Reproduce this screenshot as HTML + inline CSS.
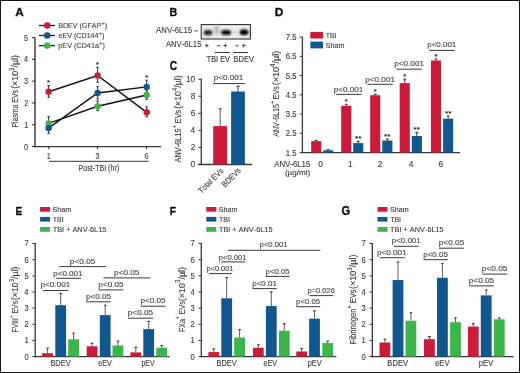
<!DOCTYPE html>
<html><head><meta charset="utf-8"><style>
html,body{margin:0;padding:0;background:#fff;}
body{width:520px;height:373px;overflow:hidden;font-family:"Liberation Sans",sans-serif;}
svg{display:block;will-change:transform;}
text{font-kerning:none;}
text:not([font-weight]){stroke:currentColor;stroke-width:0.12px;}
text[font-weight]{stroke:currentColor;stroke-width:0.35px;}
</style></head><body>
<svg width="520" height="373" viewBox="0 0 520 373" font-family="Liberation Sans">
<rect x="0.00" y="0.00" width="520.00" height="373.00" fill="#fff" />
<text x="15.21" y="15.50" font-size="11.05" fill="#111" color="#111" font-weight="bold" textLength="8.50" lengthAdjust="spacingAndGlyphs" >A</text>
<line x1="39.00" y1="25.50" x2="55.00" y2="25.50" stroke="#222" stroke-width="1.3" />
<circle cx="47.20" cy="25.50" r="3.3" fill="#ca1c39"/>
<text x="58.22" y="28.10" font-size="7.1" fill="#444" color="#444" >BDEV (GFAP<tspan font-size="6.00" dy="-3.00">+</tspan><tspan dy="3.00">)</tspan></text>
<line x1="39.00" y1="35.50" x2="55.00" y2="35.50" stroke="#222" stroke-width="1.3" />
<circle cx="47.20" cy="35.50" r="3.3" fill="#12578d"/>
<text x="58.50" y="37.90" font-size="7.1" fill="#444" color="#444" textLength="45.95" lengthAdjust="spacingAndGlyphs" >eEV (CD144<tspan font-size="6.00" dy="-3.00">+</tspan><tspan dy="3.00">)</tspan></text>
<line x1="39.00" y1="45.60" x2="55.00" y2="45.60" stroke="#222" stroke-width="1.3" />
<circle cx="47.20" cy="45.60" r="3.3" fill="#3db54a"/>
<text x="58.33" y="47.80" font-size="7.1" fill="#444" color="#444" textLength="46.62" lengthAdjust="spacingAndGlyphs" >pEV (CD41a<tspan font-size="6.00" dy="-3.00">+</tspan><tspan dy="3.00">)</tspan></text>
<line x1="35.00" y1="37.60" x2="35.00" y2="147.20" stroke="#383838" stroke-width="1.4" />
<line x1="34.30" y1="146.60" x2="161.00" y2="146.60" stroke="#383838" stroke-width="1.4" />
<line x1="32.00" y1="146.50" x2="35.00" y2="146.50" stroke="#383838" stroke-width="1.1" />
<text x="24.08" y="149.60" font-size="9.0" fill="#3c3c3c" color="#3c3c3c" textLength="4.10" lengthAdjust="spacingAndGlyphs" >0</text>
<line x1="32.00" y1="124.72" x2="35.00" y2="124.72" stroke="#383838" stroke-width="1.1" />
<text x="24.16" y="127.82" font-size="9.0" fill="#3c3c3c" color="#3c3c3c" textLength="4.10" lengthAdjust="spacingAndGlyphs" >1</text>
<line x1="32.00" y1="102.94" x2="35.00" y2="102.94" stroke="#383838" stroke-width="1.1" />
<text x="24.17" y="106.04" font-size="9.0" fill="#3c3c3c" color="#3c3c3c" textLength="4.10" lengthAdjust="spacingAndGlyphs" >2</text>
<line x1="32.00" y1="81.16" x2="35.00" y2="81.16" stroke="#383838" stroke-width="1.1" />
<text x="24.12" y="84.26" font-size="9.0" fill="#3c3c3c" color="#3c3c3c" textLength="4.10" lengthAdjust="spacingAndGlyphs" >3</text>
<line x1="32.00" y1="59.38" x2="35.00" y2="59.38" stroke="#383838" stroke-width="1.1" />
<text x="24.01" y="62.48" font-size="9.0" fill="#3c3c3c" color="#3c3c3c" textLength="4.10" lengthAdjust="spacingAndGlyphs" >4</text>
<line x1="32.00" y1="37.60" x2="35.00" y2="37.60" stroke="#383838" stroke-width="1.1" />
<text x="24.11" y="40.70" font-size="9.0" fill="#3c3c3c" color="#3c3c3c" textLength="4.10" lengthAdjust="spacingAndGlyphs" >5</text>
<line x1="48.80" y1="146.60" x2="48.80" y2="149.20" stroke="#383838" stroke-width="1.1" />
<text x="46.69" y="158.70" font-size="8.8" fill="#3c3c3c" color="#3c3c3c" textLength="4.01" lengthAdjust="spacingAndGlyphs" >1</text>
<line x1="97.50" y1="146.60" x2="97.50" y2="149.20" stroke="#383838" stroke-width="1.1" />
<text x="95.51" y="158.70" font-size="8.8" fill="#3c3c3c" color="#3c3c3c" textLength="4.01" lengthAdjust="spacingAndGlyphs" >3</text>
<line x1="146.50" y1="146.60" x2="146.50" y2="149.20" stroke="#383838" stroke-width="1.1" />
<text x="144.47" y="158.70" font-size="8.8" fill="#3c3c3c" color="#3c3c3c" textLength="4.01" lengthAdjust="spacingAndGlyphs" >6</text>
<line x1="49.00" y1="161.30" x2="148.50" y2="161.30" stroke="#333" stroke-width="1" />
<text x="78.62" y="171.40" font-size="9.4" fill="#3c3c3c" color="#3c3c3c" textLength="40.52" lengthAdjust="spacingAndGlyphs" >Post-TBI (hr)</text>
<text x="-127.57" y="0" font-size="9.8" fill="#3c3c3c" color="#3c3c3c" textLength="37.51" lengthAdjust="spacingAndGlyphs" transform="translate(18.00,0) rotate(-90)" >Plasma EVs</text>
<text x="-88.85" y="0" font-size="9.8" fill="#3c3c3c" color="#3c3c3c" textLength="33.80" lengthAdjust="spacingAndGlyphs" transform="translate(18.00,0) rotate(-90)" >(×10<tspan font-size="6.66" dy="-4.12">3</tspan><tspan dy="4.12">/µl)</tspan></text>
<line x1="48.60" y1="121.70" x2="48.60" y2="133.30" stroke="#333" stroke-width="1" />
<line x1="47.30" y1="121.70" x2="49.90" y2="121.70" stroke="#333" stroke-width="1" />
<line x1="47.30" y1="133.30" x2="49.90" y2="133.30" stroke="#333" stroke-width="1" />
<line x1="97.60" y1="86.60" x2="97.60" y2="98.90" stroke="#333" stroke-width="1" />
<line x1="96.30" y1="86.60" x2="98.90" y2="86.60" stroke="#333" stroke-width="1" />
<line x1="96.30" y1="98.90" x2="98.90" y2="98.90" stroke="#333" stroke-width="1" />
<line x1="146.70" y1="80.20" x2="146.70" y2="93.00" stroke="#333" stroke-width="1" />
<line x1="145.40" y1="80.20" x2="148.00" y2="80.20" stroke="#333" stroke-width="1" />
<line x1="145.40" y1="93.00" x2="148.00" y2="93.00" stroke="#333" stroke-width="1" />
<line x1="48.60" y1="116.70" x2="48.60" y2="128.90" stroke="#333" stroke-width="1" />
<line x1="47.30" y1="116.70" x2="49.90" y2="116.70" stroke="#333" stroke-width="1" />
<line x1="47.30" y1="128.90" x2="49.90" y2="128.90" stroke="#333" stroke-width="1" />
<line x1="97.60" y1="101.00" x2="97.60" y2="110.70" stroke="#333" stroke-width="1" />
<line x1="96.30" y1="101.00" x2="98.90" y2="101.00" stroke="#333" stroke-width="1" />
<line x1="96.30" y1="110.70" x2="98.90" y2="110.70" stroke="#333" stroke-width="1" />
<line x1="146.70" y1="90.00" x2="146.70" y2="99.30" stroke="#333" stroke-width="1" />
<line x1="145.40" y1="90.00" x2="148.00" y2="90.00" stroke="#333" stroke-width="1" />
<line x1="145.40" y1="99.30" x2="148.00" y2="99.30" stroke="#333" stroke-width="1" />
<line x1="48.60" y1="85.40" x2="48.60" y2="97.30" stroke="#333" stroke-width="1" />
<line x1="47.30" y1="85.40" x2="49.90" y2="85.40" stroke="#333" stroke-width="1" />
<line x1="47.30" y1="97.30" x2="49.90" y2="97.30" stroke="#333" stroke-width="1" />
<line x1="97.60" y1="67.40" x2="97.60" y2="82.20" stroke="#333" stroke-width="1" />
<line x1="96.30" y1="67.40" x2="98.90" y2="67.40" stroke="#333" stroke-width="1" />
<line x1="96.30" y1="82.20" x2="98.90" y2="82.20" stroke="#333" stroke-width="1" />
<line x1="146.70" y1="106.90" x2="146.70" y2="116.80" stroke="#333" stroke-width="1" />
<line x1="145.40" y1="106.90" x2="148.00" y2="106.90" stroke="#333" stroke-width="1" />
<line x1="145.40" y1="116.80" x2="148.00" y2="116.80" stroke="#333" stroke-width="1" />
<polyline points="48.60,123.40 97.60,106.30 146.70,95.00" fill="none" stroke="#111" stroke-width="1.45"/>
<polyline points="48.60,128.10 97.60,93.00 146.70,86.90" fill="none" stroke="#111" stroke-width="1.45"/>
<polyline points="48.60,91.70 97.60,75.50 146.70,112.30" fill="none" stroke="#111" stroke-width="1.45"/>
<circle cx="48.60" cy="123.40" r="3.2" fill="#3db54a"/>
<circle cx="97.60" cy="106.30" r="3.2" fill="#3db54a"/>
<circle cx="146.70" cy="95.00" r="3.2" fill="#3db54a"/>
<circle cx="48.60" cy="128.10" r="3.2" fill="#12578d"/>
<circle cx="97.60" cy="93.00" r="3.2" fill="#12578d"/>
<circle cx="146.70" cy="86.90" r="3.2" fill="#12578d"/>
<circle cx="48.60" cy="91.70" r="3.2" fill="#ca1c39"/>
<circle cx="97.60" cy="75.50" r="3.2" fill="#ca1c39"/>
<circle cx="146.70" cy="112.30" r="3.2" fill="#ca1c39"/>
<text x="47.08" y="85.00" font-size="7.8" fill="#222" color="#222" >*</text>
<text x="96.08" y="67.40" font-size="7.8" fill="#222" color="#222" >*</text>
<text x="145.18" y="79.70" font-size="7.8" fill="#222" color="#222" >*</text>
<text x="169.59" y="15.50" font-size="11.05" fill="#111" color="#111" font-weight="bold" textLength="7.70" lengthAdjust="spacingAndGlyphs" >B</text>
<text x="156.08" y="33.10" font-size="8.3" fill="#3c3c3c" color="#3c3c3c" textLength="36.04" lengthAdjust="spacingAndGlyphs" >ANV-6L15</text>
<line x1="194.50" y1="30.90" x2="198.00" y2="30.90" stroke="#333" stroke-width="0.9" />
<defs><filter id="bl" x="-50%" y="-50%" width="200%" height="200%"><feGaussianBlur stdDeviation="0.8"/></filter><filter id="bl2" x="-50%" y="-50%" width="200%" height="200%"><feGaussianBlur stdDeviation="1.5"/></filter></defs>
<rect x="201.20" y="24.60" width="49.20" height="14.40" fill="#ececec" stroke="#222" stroke-width="1"/>
<ellipse cx="216.8" cy="30.2" rx="2.6" ry="4.6" fill="#b8b8b8" filter="url(#bl2)"/>
<ellipse cx="235.2" cy="32.2" rx="1.5" ry="1.5" fill="#cccccc" filter="url(#bl)"/>
<rect x="203.90" y="30.10" width="8.40" height="5.20" rx="2.60" fill="#262626" filter="url(#bl)"/>
<rect x="221.20" y="30.00" width="9.80" height="5.00" rx="2.50" fill="#0e0e0e" filter="url(#bl)"/>
<rect x="239.80" y="29.50" width="8.60" height="5.60" rx="2.80" fill="#050505" filter="url(#bl)"/>
<text x="165.88" y="47.40" font-size="8.3" fill="#3c3c3c" color="#3c3c3c" textLength="35.54" lengthAdjust="spacingAndGlyphs" >ANV-6L15</text>
<line x1="205.00" y1="45.60" x2="208.60" y2="45.60" stroke="#333" stroke-width="0.9" />
<line x1="206.80" y1="43.80" x2="206.80" y2="47.40" stroke="#333" stroke-width="0.9" />
<line x1="216.90" y1="45.80" x2="220.40" y2="45.80" stroke="#333" stroke-width="0.9" />
<line x1="223.50" y1="45.60" x2="227.10" y2="45.60" stroke="#333" stroke-width="0.9" />
<line x1="225.30" y1="43.80" x2="225.30" y2="47.40" stroke="#333" stroke-width="0.9" />
<line x1="235.30" y1="45.80" x2="238.80" y2="45.80" stroke="#333" stroke-width="0.9" />
<line x1="241.90" y1="45.60" x2="245.50" y2="45.60" stroke="#333" stroke-width="0.9" />
<line x1="243.70" y1="43.80" x2="243.70" y2="47.40" stroke="#333" stroke-width="0.9" />
<line x1="215.00" y1="52.50" x2="229.90" y2="52.50" stroke="#333" stroke-width="1" />
<line x1="233.20" y1="52.50" x2="247.90" y2="52.50" stroke="#333" stroke-width="1" />
<text x="206.73" y="61.80" font-size="8.3" fill="#3c3c3c" color="#3c3c3c" textLength="23.30" lengthAdjust="spacingAndGlyphs" >TBI EV</text>
<text x="233.48" y="61.80" font-size="8.3" fill="#3c3c3c" color="#3c3c3c" textLength="20.55" lengthAdjust="spacingAndGlyphs" >BDEV</text>
<text x="169.68" y="70.00" font-size="12.21" fill="#111" color="#111" font-weight="bold" textLength="7.40" lengthAdjust="spacingAndGlyphs" >C</text>
<line x1="201.30" y1="78.70" x2="201.30" y2="165.00" stroke="#383838" stroke-width="1.3" />
<line x1="198.30" y1="164.50" x2="252.20" y2="164.50" stroke="#383838" stroke-width="1.3" />
<line x1="198.30" y1="164.40" x2="201.30" y2="164.40" stroke="#383838" stroke-width="1" />
<text x="190.62" y="167.40" font-size="9.0" fill="#3c3c3c" color="#3c3c3c" textLength="4.60" lengthAdjust="spacingAndGlyphs" >0</text>
<line x1="198.30" y1="147.36" x2="201.30" y2="147.36" stroke="#383838" stroke-width="1" />
<text x="190.71" y="150.36" font-size="9.0" fill="#3c3c3c" color="#3c3c3c" textLength="4.60" lengthAdjust="spacingAndGlyphs" >2</text>
<line x1="198.30" y1="130.32" x2="201.30" y2="130.32" stroke="#383838" stroke-width="1" />
<text x="190.54" y="133.32" font-size="9.0" fill="#3c3c3c" color="#3c3c3c" textLength="4.60" lengthAdjust="spacingAndGlyphs" >4</text>
<line x1="198.30" y1="113.28" x2="201.30" y2="113.28" stroke="#383838" stroke-width="1" />
<text x="190.66" y="116.28" font-size="9.0" fill="#3c3c3c" color="#3c3c3c" textLength="4.60" lengthAdjust="spacingAndGlyphs" >6</text>
<line x1="198.30" y1="96.24" x2="201.30" y2="96.24" stroke="#383838" stroke-width="1" />
<text x="190.65" y="99.24" font-size="9.0" fill="#3c3c3c" color="#3c3c3c" textLength="4.60" lengthAdjust="spacingAndGlyphs" >8</text>
<line x1="198.30" y1="79.20" x2="201.30" y2="79.20" stroke="#383838" stroke-width="1" />
<text x="186.01" y="82.20" font-size="9.0" fill="#3c3c3c" color="#3c3c3c" textLength="9.21" lengthAdjust="spacingAndGlyphs" >10</text>
<rect x="213.20" y="126.10" width="13.90" height="38.40" fill="#ca1c39" />
<rect x="231.10" y="91.50" width="13.80" height="73.00" fill="#12578d" />
<line x1="220.20" y1="108.80" x2="220.20" y2="126.10" stroke="#5c5c5c" stroke-width="1" />
<line x1="218.90" y1="108.80" x2="221.50" y2="108.80" stroke="#333" stroke-width="1.1" />
<line x1="238.00" y1="86.30" x2="238.00" y2="91.50" stroke="#333" stroke-width="1" />
<line x1="236.40" y1="86.30" x2="239.60" y2="86.30" stroke="#333" stroke-width="1.1" />
<text x="213.78" y="80.10" font-size="8.0" fill="#444" color="#444" textLength="29.52" lengthAdjust="spacingAndGlyphs" >p&lt;0.001</text>
<line x1="213.10" y1="83.60" x2="244.80" y2="83.60" stroke="#3a3a3a" stroke-width="1" />
<text x="0" y="0" font-size="8.2" fill="#3c3c3c" color="#3c3c3c" text-anchor="end" textLength="32" lengthAdjust="spacingAndGlyphs" transform="translate(224.2,171.3) rotate(-45)">Total EVs</text>
<text x="0" y="0" font-size="8.2" fill="#3c3c3c" color="#3c3c3c" text-anchor="end" textLength="23.2" lengthAdjust="spacingAndGlyphs" transform="translate(241.4,171.3) rotate(-45)">BDEVs</text>
<text x="-162.41" y="0" font-size="9.3" fill="#3c3c3c" color="#3c3c3c" textLength="52.68" lengthAdjust="spacingAndGlyphs" transform="translate(181.30,0) rotate(-90)" >ANV-6L15<tspan font-size="6.51" dy="-3.91">+</tspan><tspan dy="3.91"> EVs</tspan></text>
<text x="-108.84" y="0" font-size="9.3" fill="#3c3c3c" color="#3c3c3c" textLength="33.38" lengthAdjust="spacingAndGlyphs" transform="translate(181.30,0) rotate(-90)" >(×10<tspan font-size="6.32" dy="-3.91">4</tspan><tspan dy="3.91">/µl)</tspan></text>
<text x="274.70" y="15.50" font-size="11.05" fill="#111" color="#111" font-weight="bold" textLength="8.60" lengthAdjust="spacingAndGlyphs" >D</text>
<line x1="302.40" y1="36.80" x2="302.40" y2="153.10" stroke="#383838" stroke-width="1.3" />
<line x1="301.80" y1="152.60" x2="460.00" y2="152.60" stroke="#383838" stroke-width="1.3" />
<line x1="299.60" y1="152.50" x2="302.40" y2="152.50" stroke="#383838" stroke-width="1" />
<text x="285.77" y="155.50" font-size="9.0" fill="#3c3c3c" color="#3c3c3c" textLength="10.76" lengthAdjust="spacingAndGlyphs" >1.5</text>
<line x1="299.60" y1="133.27" x2="302.40" y2="133.27" stroke="#383838" stroke-width="1" />
<text x="285.77" y="136.27" font-size="9.0" fill="#3c3c3c" color="#3c3c3c" textLength="10.76" lengthAdjust="spacingAndGlyphs" >2.5</text>
<line x1="299.60" y1="114.04" x2="302.40" y2="114.04" stroke="#383838" stroke-width="1" />
<text x="285.77" y="117.04" font-size="9.0" fill="#3c3c3c" color="#3c3c3c" textLength="10.76" lengthAdjust="spacingAndGlyphs" >3.5</text>
<line x1="299.60" y1="94.81" x2="302.40" y2="94.81" stroke="#383838" stroke-width="1" />
<text x="285.77" y="97.81" font-size="9.0" fill="#3c3c3c" color="#3c3c3c" textLength="10.76" lengthAdjust="spacingAndGlyphs" >4.5</text>
<line x1="299.60" y1="75.58" x2="302.40" y2="75.58" stroke="#383838" stroke-width="1" />
<text x="285.77" y="78.58" font-size="9.0" fill="#3c3c3c" color="#3c3c3c" textLength="10.76" lengthAdjust="spacingAndGlyphs" >5.5</text>
<line x1="299.60" y1="56.35" x2="302.40" y2="56.35" stroke="#383838" stroke-width="1" />
<text x="285.77" y="59.35" font-size="9.0" fill="#3c3c3c" color="#3c3c3c" textLength="10.76" lengthAdjust="spacingAndGlyphs" >6.5</text>
<line x1="299.60" y1="37.12" x2="302.40" y2="37.12" stroke="#383838" stroke-width="1" />
<text x="285.77" y="40.12" font-size="9.0" fill="#3c3c3c" color="#3c3c3c" textLength="10.76" lengthAdjust="spacingAndGlyphs" >7.5</text>
<rect x="310.30" y="31.90" width="12.80" height="6.60" fill="#ca1c39" />
<rect x="310.30" y="41.60" width="12.80" height="6.80" fill="#12578d" />
<text x="325.85" y="37.80" font-size="7.0" fill="#3c3c3c" color="#3c3c3c" textLength="10.69" lengthAdjust="spacingAndGlyphs" >TBI</text>
<text x="325.67" y="47.50" font-size="7.0" fill="#3c3c3c" color="#3c3c3c" textLength="18.70" lengthAdjust="spacingAndGlyphs" >Sham</text>
<rect x="311.20" y="141.10" width="10.10" height="11.50" fill="#ca1c39" />
<rect x="323.20" y="150.30" width="10.10" height="2.30" fill="#12578d" />
<line x1="316.25" y1="140.30" x2="316.25" y2="141.10" stroke="#333" stroke-width="1" />
<line x1="314.75" y1="140.30" x2="317.75" y2="140.30" stroke="#333" stroke-width="1" />
<line x1="328.25" y1="149.60" x2="328.25" y2="150.30" stroke="#333" stroke-width="1" />
<line x1="326.75" y1="149.60" x2="329.75" y2="149.60" stroke="#333" stroke-width="1" />
<rect x="341.20" y="105.80" width="10.10" height="46.80" fill="#ca1c39" />
<rect x="353.20" y="143.10" width="10.10" height="9.50" fill="#12578d" />
<line x1="346.25" y1="104.30" x2="346.25" y2="105.80" stroke="#333" stroke-width="1" />
<line x1="344.75" y1="104.30" x2="347.75" y2="104.30" stroke="#333" stroke-width="1" />
<line x1="358.25" y1="141.30" x2="358.25" y2="143.10" stroke="#333" stroke-width="1" />
<line x1="356.75" y1="141.30" x2="359.75" y2="141.30" stroke="#333" stroke-width="1" />
<text x="344.73" y="104.20" font-size="7.8" fill="#222" color="#222" >*</text>
<text x="355.02" y="141.30" font-size="7.8" fill="#222" color="#222" textLength="6.46" lengthAdjust="spacingAndGlyphs" >**</text>
<rect x="370.20" y="95.20" width="10.10" height="57.40" fill="#ca1c39" />
<rect x="382.30" y="140.50" width="10.10" height="12.10" fill="#12578d" />
<line x1="375.25" y1="94.20" x2="375.25" y2="95.20" stroke="#333" stroke-width="1" />
<line x1="373.75" y1="94.20" x2="376.75" y2="94.20" stroke="#333" stroke-width="1" />
<line x1="387.35" y1="139.00" x2="387.35" y2="140.50" stroke="#333" stroke-width="1" />
<line x1="385.85" y1="139.00" x2="388.85" y2="139.00" stroke="#333" stroke-width="1" />
<text x="373.73" y="94.10" font-size="7.8" fill="#222" color="#222" >*</text>
<text x="384.12" y="139.00" font-size="7.8" fill="#222" color="#222" textLength="6.46" lengthAdjust="spacingAndGlyphs" >**</text>
<rect x="399.70" y="83.10" width="10.10" height="69.50" fill="#ca1c39" />
<rect x="411.80" y="136.00" width="10.10" height="16.60" fill="#12578d" />
<line x1="404.75" y1="79.10" x2="404.75" y2="83.10" stroke="#333" stroke-width="1" />
<line x1="403.25" y1="79.10" x2="406.25" y2="79.10" stroke="#333" stroke-width="1" />
<line x1="416.85" y1="132.40" x2="416.85" y2="136.00" stroke="#333" stroke-width="1" />
<line x1="415.35" y1="132.40" x2="418.35" y2="132.40" stroke="#333" stroke-width="1" />
<text x="403.23" y="79.00" font-size="7.8" fill="#222" color="#222" >*</text>
<text x="413.62" y="132.40" font-size="7.8" fill="#222" color="#222" textLength="6.46" lengthAdjust="spacingAndGlyphs" >**</text>
<rect x="430.90" y="60.50" width="10.10" height="92.10" fill="#ca1c39" />
<rect x="443.10" y="118.70" width="10.10" height="33.90" fill="#12578d" />
<line x1="435.95" y1="59.00" x2="435.95" y2="60.50" stroke="#333" stroke-width="1" />
<line x1="434.45" y1="59.00" x2="437.45" y2="59.00" stroke="#333" stroke-width="1" />
<line x1="448.15" y1="115.90" x2="448.15" y2="118.70" stroke="#333" stroke-width="1" />
<line x1="446.65" y1="115.90" x2="449.65" y2="115.90" stroke="#333" stroke-width="1" />
<text x="434.43" y="58.90" font-size="7.8" fill="#222" color="#222" >*</text>
<text x="444.92" y="115.90" font-size="7.8" fill="#222" color="#222" textLength="6.46" lengthAdjust="spacingAndGlyphs" >**</text>
<text x="333.67" y="91.50" font-size="8.0" fill="#444" color="#444" textLength="29.72" lengthAdjust="spacingAndGlyphs" >p&lt;0.001</text>
<line x1="336.00" y1="94.40" x2="361.60" y2="94.40" stroke="#3a3a3a" stroke-width="1" />
<text x="365.17" y="81.70" font-size="8.0" fill="#444" color="#444" textLength="29.83" lengthAdjust="spacingAndGlyphs" >p&lt;0.001</text>
<line x1="367.50" y1="84.30" x2="392.80" y2="84.30" stroke="#3a3a3a" stroke-width="1" />
<text x="394.17" y="65.90" font-size="8.0" fill="#444" color="#444" textLength="29.83" lengthAdjust="spacingAndGlyphs" >p&lt;0.001</text>
<line x1="396.50" y1="69.20" x2="421.80" y2="69.20" stroke="#3a3a3a" stroke-width="1" />
<text x="427.29" y="47.30" font-size="8.0" fill="#444" color="#444" textLength="29.00" lengthAdjust="spacingAndGlyphs" >p&lt;0.001</text>
<line x1="429.00" y1="50.40" x2="454.70" y2="50.40" stroke="#3a3a3a" stroke-width="1" />
<text x="318.26" y="166.60" font-size="8.4" fill="#3c3c3c" color="#3c3c3c" >0</text>
<text x="348.05" y="166.60" font-size="8.4" fill="#3c3c3c" color="#3c3c3c" >1</text>
<text x="377.66" y="166.60" font-size="8.4" fill="#3c3c3c" color="#3c3c3c" >2</text>
<text x="408.79" y="166.60" font-size="8.4" fill="#3c3c3c" color="#3c3c3c" >4</text>
<text x="438.44" y="166.60" font-size="8.4" fill="#3c3c3c" color="#3c3c3c" >6</text>
<text x="274.18" y="166.60" font-size="8.4" fill="#3c3c3c" color="#3c3c3c" textLength="36.14" lengthAdjust="spacingAndGlyphs" >ANV-6L15</text>
<text x="284.90" y="175.20" font-size="7.4" fill="#3c3c3c" color="#3c3c3c" textLength="25.41" lengthAdjust="spacingAndGlyphs" >(µg/ml)</text>
<text x="-136.71" y="0" font-size="9.3" fill="#3c3c3c" color="#3c3c3c" textLength="50.47" lengthAdjust="spacingAndGlyphs" transform="translate(279.00,0) rotate(-90)" >ANV-6L15<tspan font-size="6.51" dy="-3.91">+</tspan><tspan dy="3.91"> EVs</tspan></text>
<text x="-85.36" y="0" font-size="9.3" fill="#3c3c3c" color="#3c3c3c" textLength="34.52" lengthAdjust="spacingAndGlyphs" transform="translate(279.00,0) rotate(-90)" >(×10<tspan font-size="6.32" dy="-3.91">4</tspan><tspan dy="3.91">/µl)</tspan></text>
<text x="15.43" y="214.60" font-size="11.05" fill="#111" color="#111" font-weight="bold" textLength="6.66" lengthAdjust="spacingAndGlyphs" >E</text>
<rect x="40.10" y="207.00" width="10.00" height="4.70" fill="#ca1c39" />
<rect x="40.10" y="216.90" width="10.00" height="4.70" fill="#12578d" />
<rect x="40.10" y="227.00" width="10.00" height="4.80" fill="#3db54a" />
<text x="52.57" y="211.90" font-size="7.2" fill="#3c3c3c" color="#3c3c3c" textLength="18.70" lengthAdjust="spacingAndGlyphs" >Sham</text>
<text x="52.74" y="221.60" font-size="7.2" fill="#3c3c3c" color="#3c3c3c" textLength="10.90" lengthAdjust="spacingAndGlyphs" >TBI</text>
<text x="52.74" y="231.90" font-size="7.2" fill="#3c3c3c" color="#3c3c3c" textLength="53.57" lengthAdjust="spacingAndGlyphs" >TBI + ANV-6L15</text>
<line x1="35.20" y1="243.10" x2="35.20" y2="357.20" stroke="#383838" stroke-width="1.3" />
<line x1="34.60" y1="356.60" x2="169.50" y2="356.60" stroke="#383838" stroke-width="1.3" />
<line x1="32.30" y1="356.60" x2="35.20" y2="356.60" stroke="#383838" stroke-width="1" />
<text x="24.39" y="359.50" font-size="8.6" fill="#3c3c3c" color="#3c3c3c" textLength="4.21" lengthAdjust="spacingAndGlyphs" >0</text>
<line x1="32.30" y1="340.45" x2="35.20" y2="340.45" stroke="#383838" stroke-width="1" />
<text x="24.46" y="343.35" font-size="8.6" fill="#3c3c3c" color="#3c3c3c" textLength="4.21" lengthAdjust="spacingAndGlyphs" >1</text>
<line x1="32.30" y1="324.30" x2="35.20" y2="324.30" stroke="#383838" stroke-width="1" />
<text x="24.47" y="327.20" font-size="8.6" fill="#3c3c3c" color="#3c3c3c" textLength="4.21" lengthAdjust="spacingAndGlyphs" >2</text>
<line x1="32.30" y1="308.15" x2="35.20" y2="308.15" stroke="#383838" stroke-width="1" />
<text x="24.42" y="311.05" font-size="8.6" fill="#3c3c3c" color="#3c3c3c" textLength="4.21" lengthAdjust="spacingAndGlyphs" >3</text>
<line x1="32.30" y1="292.00" x2="35.20" y2="292.00" stroke="#383838" stroke-width="1" />
<text x="24.31" y="294.90" font-size="8.6" fill="#3c3c3c" color="#3c3c3c" textLength="4.21" lengthAdjust="spacingAndGlyphs" >4</text>
<line x1="32.30" y1="275.85" x2="35.20" y2="275.85" stroke="#383838" stroke-width="1" />
<text x="24.41" y="278.75" font-size="8.6" fill="#3c3c3c" color="#3c3c3c" textLength="4.21" lengthAdjust="spacingAndGlyphs" >5</text>
<line x1="32.30" y1="259.70" x2="35.20" y2="259.70" stroke="#383838" stroke-width="1" />
<text x="24.42" y="262.60" font-size="8.6" fill="#3c3c3c" color="#3c3c3c" textLength="4.21" lengthAdjust="spacingAndGlyphs" >6</text>
<line x1="32.30" y1="243.55" x2="35.20" y2="243.55" stroke="#383838" stroke-width="1" />
<text x="24.47" y="246.45" font-size="8.6" fill="#3c3c3c" color="#3c3c3c" textLength="4.21" lengthAdjust="spacingAndGlyphs" >7</text>
<rect x="42.20" y="353.21" width="10.80" height="3.39" fill="#ca1c39" />
<line x1="47.60" y1="348.20" x2="47.60" y2="353.21" stroke="#5c5c5c" stroke-width="1" />
<line x1="46.30" y1="348.20" x2="48.90" y2="348.20" stroke="#333" stroke-width="1.1" />
<rect x="55.30" y="305.24" width="10.80" height="51.36" fill="#12578d" />
<line x1="60.70" y1="293.62" x2="60.70" y2="305.24" stroke="#5c5c5c" stroke-width="1" />
<line x1="59.40" y1="293.62" x2="62.00" y2="293.62" stroke="#333" stroke-width="1.1" />
<rect x="68.20" y="339.32" width="10.80" height="17.28" fill="#3db54a" />
<line x1="73.60" y1="333.18" x2="73.60" y2="339.32" stroke="#5c5c5c" stroke-width="1" />
<line x1="72.30" y1="333.18" x2="74.90" y2="333.18" stroke="#333" stroke-width="1.1" />
<rect x="86.70" y="346.26" width="10.80" height="10.34" fill="#ca1c39" />
<line x1="92.10" y1="343.36" x2="92.10" y2="346.26" stroke="#5c5c5c" stroke-width="1" />
<line x1="90.80" y1="343.36" x2="93.40" y2="343.36" stroke="#333" stroke-width="1.1" />
<rect x="99.80" y="315.09" width="10.80" height="41.51" fill="#12578d" />
<line x1="105.20" y1="305.24" x2="105.20" y2="315.09" stroke="#5c5c5c" stroke-width="1" />
<line x1="103.90" y1="305.24" x2="106.50" y2="305.24" stroke="#333" stroke-width="1.1" />
<rect x="112.50" y="345.46" width="10.80" height="11.14" fill="#3db54a" />
<line x1="117.90" y1="341.10" x2="117.90" y2="345.46" stroke="#5c5c5c" stroke-width="1" />
<line x1="116.60" y1="341.10" x2="119.20" y2="341.10" stroke="#333" stroke-width="1.1" />
<rect x="130.40" y="352.40" width="10.80" height="4.20" fill="#ca1c39" />
<line x1="135.80" y1="347.39" x2="135.80" y2="352.40" stroke="#5c5c5c" stroke-width="1" />
<line x1="134.50" y1="347.39" x2="137.10" y2="347.39" stroke="#333" stroke-width="1.1" />
<rect x="143.30" y="329.15" width="10.80" height="27.45" fill="#12578d" />
<line x1="148.70" y1="321.39" x2="148.70" y2="329.15" stroke="#5c5c5c" stroke-width="1" />
<line x1="147.40" y1="321.39" x2="150.00" y2="321.39" stroke="#333" stroke-width="1.1" />
<rect x="156.30" y="347.72" width="10.80" height="8.88" fill="#3db54a" />
<line x1="161.70" y1="345.62" x2="161.70" y2="347.72" stroke="#5c5c5c" stroke-width="1" />
<line x1="160.40" y1="345.62" x2="163.00" y2="345.62" stroke="#333" stroke-width="1.1" />
<text x="40.58" y="287.30" font-size="8.0" fill="#444" color="#444" textLength="29.62" lengthAdjust="spacingAndGlyphs" >p&lt;0.001</text>
<line x1="43.10" y1="290.50" x2="68.40" y2="290.50" stroke="#3a3a3a" stroke-width="1" />
<text x="53.29" y="275.70" font-size="8.0" fill="#444" color="#444" >p&lt;0.001</text>
<line x1="56.20" y1="278.30" x2="80.90" y2="278.30" stroke="#3a3a3a" stroke-width="1" />
<text x="69.87" y="263.50" font-size="8.0" fill="#444" color="#444" textLength="25.58" lengthAdjust="spacingAndGlyphs" >p&lt;0.05</text>
<line x1="59.30" y1="266.60" x2="106.20" y2="266.60" stroke="#3a3a3a" stroke-width="1" />
<text x="85.97" y="299.10" font-size="8.0" fill="#444" color="#444" textLength="25.17" lengthAdjust="spacingAndGlyphs" >p&lt;0.05</text>
<line x1="86.20" y1="301.80" x2="110.60" y2="301.80" stroke="#3a3a3a" stroke-width="1" />
<text x="98.38" y="286.50" font-size="8.0" fill="#444" color="#444" textLength="25.06" lengthAdjust="spacingAndGlyphs" >p&lt;0.05</text>
<line x1="98.60" y1="289.90" x2="123.40" y2="289.90" stroke="#3a3a3a" stroke-width="1" />
<text x="114.07" y="275.20" font-size="8.0" fill="#444" color="#444" textLength="25.38" lengthAdjust="spacingAndGlyphs" >p&lt;0.05</text>
<line x1="103.30" y1="277.90" x2="150.40" y2="277.90" stroke="#3a3a3a" stroke-width="1" />
<text x="127.77" y="315.40" font-size="8.0" fill="#444" color="#444" textLength="25.38" lengthAdjust="spacingAndGlyphs" >p&lt;0.05</text>
<line x1="128.00" y1="318.20" x2="153.10" y2="318.20" stroke="#3a3a3a" stroke-width="1" />
<text x="140.58" y="303.10" font-size="8.0" fill="#444" color="#444" textLength="25.06" lengthAdjust="spacingAndGlyphs" >p&lt;0.05</text>
<line x1="140.50" y1="306.20" x2="165.60" y2="306.20" stroke="#3a3a3a" stroke-width="1" />
<text x="50.39" y="366.30" font-size="8.6" fill="#3c3c3c" color="#3c3c3c" textLength="20.24" lengthAdjust="spacingAndGlyphs" >BDEV</text>
<text x="98.30" y="366.30" font-size="8.6" fill="#3c3c3c" color="#3c3c3c" textLength="13.43" lengthAdjust="spacingAndGlyphs" >eEV</text>
<text x="141.56" y="366.30" font-size="8.6" fill="#3c3c3c" color="#3c3c3c" textLength="12.97" lengthAdjust="spacingAndGlyphs" >pEV</text>
<text x="-332.46" y="0" font-size="9.6" fill="#3c3c3c" color="#3c3c3c" textLength="31.50" lengthAdjust="spacingAndGlyphs" transform="translate(18.00,0) rotate(-90)" >FVIII<tspan font-size="6.72" dy="-4.03">+</tspan><tspan dy="4.03"> EVs</tspan></text>
<text x="-300.15" y="0" font-size="9.6" fill="#3c3c3c" color="#3c3c3c" textLength="33.69" lengthAdjust="spacingAndGlyphs" transform="translate(18.00,0) rotate(-90)" >(×10<tspan font-size="6.53" dy="-4.03">3</tspan><tspan dy="4.03">/µl)</tspan></text>
<text x="169.81" y="214.60" font-size="10.9" fill="#111" color="#111" font-weight="bold" textLength="6.26" lengthAdjust="spacingAndGlyphs" >F</text>
<rect x="206.30" y="207.00" width="10.00" height="4.70" fill="#ca1c39" />
<rect x="206.30" y="216.90" width="10.00" height="4.70" fill="#12578d" />
<rect x="206.30" y="227.00" width="10.00" height="4.80" fill="#3db54a" />
<text x="218.77" y="211.90" font-size="7.2" fill="#3c3c3c" color="#3c3c3c" textLength="18.70" lengthAdjust="spacingAndGlyphs" >Sham</text>
<text x="218.94" y="221.60" font-size="7.2" fill="#3c3c3c" color="#3c3c3c" textLength="10.90" lengthAdjust="spacingAndGlyphs" >TBI</text>
<text x="218.94" y="231.90" font-size="7.2" fill="#3c3c3c" color="#3c3c3c" textLength="53.57" lengthAdjust="spacingAndGlyphs" >TBI + ANV-6L15</text>
<line x1="201.30" y1="243.10" x2="201.30" y2="357.20" stroke="#383838" stroke-width="1.3" />
<line x1="200.70" y1="356.60" x2="336.40" y2="356.60" stroke="#383838" stroke-width="1.3" />
<line x1="198.40" y1="356.60" x2="201.30" y2="356.60" stroke="#383838" stroke-width="1" />
<text x="190.49" y="359.50" font-size="8.6" fill="#3c3c3c" color="#3c3c3c" textLength="4.21" lengthAdjust="spacingAndGlyphs" >0</text>
<line x1="198.40" y1="340.45" x2="201.30" y2="340.45" stroke="#383838" stroke-width="1" />
<text x="190.56" y="343.35" font-size="8.6" fill="#3c3c3c" color="#3c3c3c" textLength="4.21" lengthAdjust="spacingAndGlyphs" >1</text>
<line x1="198.40" y1="324.30" x2="201.30" y2="324.30" stroke="#383838" stroke-width="1" />
<text x="190.57" y="327.20" font-size="8.6" fill="#3c3c3c" color="#3c3c3c" textLength="4.21" lengthAdjust="spacingAndGlyphs" >2</text>
<line x1="198.40" y1="308.15" x2="201.30" y2="308.15" stroke="#383838" stroke-width="1" />
<text x="190.52" y="311.05" font-size="8.6" fill="#3c3c3c" color="#3c3c3c" textLength="4.21" lengthAdjust="spacingAndGlyphs" >3</text>
<line x1="198.40" y1="292.00" x2="201.30" y2="292.00" stroke="#383838" stroke-width="1" />
<text x="190.41" y="294.90" font-size="8.6" fill="#3c3c3c" color="#3c3c3c" textLength="4.21" lengthAdjust="spacingAndGlyphs" >4</text>
<line x1="198.40" y1="275.85" x2="201.30" y2="275.85" stroke="#383838" stroke-width="1" />
<text x="190.51" y="278.75" font-size="8.6" fill="#3c3c3c" color="#3c3c3c" textLength="4.21" lengthAdjust="spacingAndGlyphs" >5</text>
<line x1="198.40" y1="259.70" x2="201.30" y2="259.70" stroke="#383838" stroke-width="1" />
<text x="190.52" y="262.60" font-size="8.6" fill="#3c3c3c" color="#3c3c3c" textLength="4.21" lengthAdjust="spacingAndGlyphs" >6</text>
<line x1="198.40" y1="243.55" x2="201.30" y2="243.55" stroke="#383838" stroke-width="1" />
<text x="190.57" y="246.45" font-size="8.6" fill="#3c3c3c" color="#3c3c3c" textLength="4.21" lengthAdjust="spacingAndGlyphs" >7</text>
<rect x="208.40" y="352.08" width="10.80" height="4.52" fill="#ca1c39" />
<line x1="213.80" y1="348.85" x2="213.80" y2="352.08" stroke="#5c5c5c" stroke-width="1" />
<line x1="212.50" y1="348.85" x2="215.10" y2="348.85" stroke="#333" stroke-width="1.1" />
<rect x="221.30" y="298.30" width="10.80" height="58.30" fill="#12578d" />
<line x1="226.70" y1="277.47" x2="226.70" y2="298.30" stroke="#5c5c5c" stroke-width="1" />
<line x1="225.40" y1="277.47" x2="228.00" y2="277.47" stroke="#333" stroke-width="1.1" />
<rect x="234.20" y="337.54" width="10.80" height="19.06" fill="#3db54a" />
<line x1="239.60" y1="329.63" x2="239.60" y2="337.54" stroke="#5c5c5c" stroke-width="1" />
<line x1="238.30" y1="329.63" x2="240.90" y2="329.63" stroke="#333" stroke-width="1.1" />
<rect x="252.90" y="347.72" width="10.80" height="8.88" fill="#ca1c39" />
<line x1="258.30" y1="344.81" x2="258.30" y2="347.72" stroke="#5c5c5c" stroke-width="1" />
<line x1="257.00" y1="344.81" x2="259.60" y2="344.81" stroke="#333" stroke-width="1.1" />
<rect x="265.90" y="306.05" width="10.80" height="50.55" fill="#12578d" />
<line x1="271.30" y1="291.84" x2="271.30" y2="306.05" stroke="#5c5c5c" stroke-width="1" />
<line x1="270.00" y1="291.84" x2="272.60" y2="291.84" stroke="#333" stroke-width="1.1" />
<rect x="278.90" y="330.76" width="10.80" height="25.84" fill="#3db54a" />
<line x1="284.30" y1="323.65" x2="284.30" y2="330.76" stroke="#5c5c5c" stroke-width="1" />
<line x1="283.00" y1="323.65" x2="285.60" y2="323.65" stroke="#333" stroke-width="1.1" />
<rect x="296.30" y="351.43" width="10.80" height="5.17" fill="#ca1c39" />
<line x1="301.70" y1="348.53" x2="301.70" y2="351.43" stroke="#5c5c5c" stroke-width="1" />
<line x1="300.40" y1="348.53" x2="303.00" y2="348.53" stroke="#333" stroke-width="1.1" />
<rect x="309.10" y="318.65" width="10.80" height="37.95" fill="#12578d" />
<line x1="314.50" y1="310.90" x2="314.50" y2="318.65" stroke="#5c5c5c" stroke-width="1" />
<line x1="313.20" y1="310.90" x2="315.80" y2="310.90" stroke="#333" stroke-width="1.1" />
<rect x="322.30" y="343.03" width="10.80" height="13.57" fill="#3db54a" />
<line x1="327.70" y1="341.10" x2="327.70" y2="343.03" stroke="#5c5c5c" stroke-width="1" />
<line x1="326.40" y1="341.10" x2="329.00" y2="341.10" stroke="#333" stroke-width="1.1" />
<text x="206.52" y="271.40" font-size="8.0" fill="#444" color="#444" textLength="26.94" lengthAdjust="spacingAndGlyphs" >p&lt;0.001</text>
<line x1="209.00" y1="273.60" x2="232.20" y2="273.60" stroke="#3a3a3a" stroke-width="1" />
<text x="218.81" y="260.00" font-size="8.0" fill="#444" color="#444" textLength="27.76" lengthAdjust="spacingAndGlyphs" >p&lt;0.001</text>
<line x1="221.20" y1="261.90" x2="245.10" y2="261.90" stroke="#3a3a3a" stroke-width="1" />
<text x="259.61" y="247.20" font-size="8.0" fill="#444" color="#444" textLength="27.97" lengthAdjust="spacingAndGlyphs" >p&lt;0.001</text>
<line x1="227.90" y1="250.30" x2="320.40" y2="250.30" stroke="#3a3a3a" stroke-width="1" />
<text x="252.29" y="285.60" font-size="8.0" fill="#444" color="#444" textLength="24.60" lengthAdjust="spacingAndGlyphs" >p&lt;0.01</text>
<line x1="252.50" y1="288.60" x2="276.80" y2="288.60" stroke="#3a3a3a" stroke-width="1" />
<text x="265.60" y="273.50" font-size="8.0" fill="#444" color="#444" textLength="23.93" lengthAdjust="spacingAndGlyphs" >p&lt;0.05</text>
<line x1="265.80" y1="276.40" x2="289.50" y2="276.40" stroke="#3a3a3a" stroke-width="1" />
<text x="296.10" y="303.60" font-size="8.0" fill="#444" color="#444" textLength="24.03" lengthAdjust="spacingAndGlyphs" >p&lt;0.05</text>
<line x1="296.30" y1="306.70" x2="320.10" y2="306.70" stroke="#3a3a3a" stroke-width="1" />
<text x="307.41" y="292.70" font-size="8.0" fill="#444" color="#444" textLength="27.52" lengthAdjust="spacingAndGlyphs" >p=0.026</text>
<line x1="309.70" y1="295.60" x2="333.30" y2="295.60" stroke="#3a3a3a" stroke-width="1" />
<text x="216.49" y="366.30" font-size="8.6" fill="#3c3c3c" color="#3c3c3c" textLength="20.14" lengthAdjust="spacingAndGlyphs" >BDEV</text>
<text x="263.60" y="366.30" font-size="8.6" fill="#3c3c3c" color="#3c3c3c" textLength="13.54" lengthAdjust="spacingAndGlyphs" >eEV</text>
<text x="307.73" y="366.30" font-size="8.6" fill="#3c3c3c" color="#3c3c3c" textLength="13.91" lengthAdjust="spacingAndGlyphs" >pEV</text>
<text x="-332.08" y="0" font-size="9.6" fill="#3c3c3c" color="#3c3c3c" textLength="30.73" lengthAdjust="spacingAndGlyphs" transform="translate(184.50,0) rotate(-90)" >FXa<tspan font-size="6.72" dy="-4.03">+</tspan><tspan dy="4.03"> EVs</tspan></text>
<text x="-301.16" y="0" font-size="9.6" fill="#3c3c3c" color="#3c3c3c" textLength="34.21" lengthAdjust="spacingAndGlyphs" transform="translate(184.50,0) rotate(-90)" >(×10<tspan font-size="6.53" dy="-4.03">3</tspan><tspan dy="4.03">/µl)</tspan></text>
<text x="341.44" y="214.90" font-size="12.06" fill="#111" color="#111" font-weight="bold" textLength="8.65" lengthAdjust="spacingAndGlyphs" >G</text>
<rect x="377.50" y="207.00" width="10.00" height="4.70" fill="#ca1c39" />
<rect x="377.50" y="216.90" width="10.00" height="4.70" fill="#12578d" />
<rect x="377.50" y="227.00" width="10.00" height="4.80" fill="#3db54a" />
<text x="389.97" y="211.90" font-size="7.2" fill="#3c3c3c" color="#3c3c3c" textLength="18.70" lengthAdjust="spacingAndGlyphs" >Sham</text>
<text x="390.14" y="221.60" font-size="7.2" fill="#3c3c3c" color="#3c3c3c" textLength="10.90" lengthAdjust="spacingAndGlyphs" >TBI</text>
<text x="390.14" y="231.90" font-size="7.2" fill="#3c3c3c" color="#3c3c3c" textLength="53.57" lengthAdjust="spacingAndGlyphs" >TBI + ANV-6L15</text>
<line x1="372.30" y1="243.10" x2="372.30" y2="357.20" stroke="#383838" stroke-width="1.3" />
<line x1="371.70" y1="356.60" x2="513.50" y2="356.60" stroke="#383838" stroke-width="1.3" />
<line x1="369.40" y1="356.60" x2="372.30" y2="356.60" stroke="#383838" stroke-width="1" />
<text x="361.49" y="359.50" font-size="8.6" fill="#3c3c3c" color="#3c3c3c" textLength="4.21" lengthAdjust="spacingAndGlyphs" >0</text>
<line x1="369.40" y1="340.45" x2="372.30" y2="340.45" stroke="#383838" stroke-width="1" />
<text x="361.56" y="343.35" font-size="8.6" fill="#3c3c3c" color="#3c3c3c" textLength="4.21" lengthAdjust="spacingAndGlyphs" >1</text>
<line x1="369.40" y1="324.30" x2="372.30" y2="324.30" stroke="#383838" stroke-width="1" />
<text x="361.57" y="327.20" font-size="8.6" fill="#3c3c3c" color="#3c3c3c" textLength="4.21" lengthAdjust="spacingAndGlyphs" >2</text>
<line x1="369.40" y1="308.15" x2="372.30" y2="308.15" stroke="#383838" stroke-width="1" />
<text x="361.52" y="311.05" font-size="8.6" fill="#3c3c3c" color="#3c3c3c" textLength="4.21" lengthAdjust="spacingAndGlyphs" >3</text>
<line x1="369.40" y1="292.00" x2="372.30" y2="292.00" stroke="#383838" stroke-width="1" />
<text x="361.41" y="294.90" font-size="8.6" fill="#3c3c3c" color="#3c3c3c" textLength="4.21" lengthAdjust="spacingAndGlyphs" >4</text>
<line x1="369.40" y1="275.85" x2="372.30" y2="275.85" stroke="#383838" stroke-width="1" />
<text x="361.51" y="278.75" font-size="8.6" fill="#3c3c3c" color="#3c3c3c" textLength="4.21" lengthAdjust="spacingAndGlyphs" >5</text>
<line x1="369.40" y1="259.70" x2="372.30" y2="259.70" stroke="#383838" stroke-width="1" />
<text x="361.52" y="262.60" font-size="8.6" fill="#3c3c3c" color="#3c3c3c" textLength="4.21" lengthAdjust="spacingAndGlyphs" >6</text>
<line x1="369.40" y1="243.55" x2="372.30" y2="243.55" stroke="#383838" stroke-width="1" />
<text x="361.57" y="246.45" font-size="8.6" fill="#3c3c3c" color="#3c3c3c" textLength="4.21" lengthAdjust="spacingAndGlyphs" >7</text>
<rect x="379.50" y="342.55" width="10.80" height="14.05" fill="#ca1c39" />
<line x1="384.90" y1="339.16" x2="384.90" y2="342.55" stroke="#5c5c5c" stroke-width="1" />
<line x1="383.60" y1="339.16" x2="386.20" y2="339.16" stroke="#333" stroke-width="1.1" />
<rect x="392.60" y="280.05" width="10.80" height="76.55" fill="#12578d" />
<line x1="398.00" y1="261.96" x2="398.00" y2="280.05" stroke="#5c5c5c" stroke-width="1" />
<line x1="396.70" y1="261.96" x2="399.30" y2="261.96" stroke="#333" stroke-width="1.1" />
<rect x="405.50" y="320.75" width="10.80" height="35.85" fill="#3db54a" />
<line x1="410.90" y1="312.67" x2="410.90" y2="320.75" stroke="#5c5c5c" stroke-width="1" />
<line x1="409.60" y1="312.67" x2="412.20" y2="312.67" stroke="#333" stroke-width="1.1" />
<rect x="424.00" y="339.16" width="10.80" height="17.44" fill="#ca1c39" />
<line x1="429.40" y1="336.57" x2="429.40" y2="339.16" stroke="#5c5c5c" stroke-width="1" />
<line x1="428.10" y1="336.57" x2="430.70" y2="336.57" stroke="#333" stroke-width="1.1" />
<rect x="437.00" y="277.79" width="10.80" height="78.81" fill="#12578d" />
<line x1="442.40" y1="263.58" x2="442.40" y2="277.79" stroke="#5c5c5c" stroke-width="1" />
<line x1="441.10" y1="263.58" x2="443.70" y2="263.58" stroke="#333" stroke-width="1.1" />
<rect x="450.10" y="322.20" width="10.80" height="34.40" fill="#3db54a" />
<line x1="455.50" y1="317.84" x2="455.50" y2="322.20" stroke="#5c5c5c" stroke-width="1" />
<line x1="454.20" y1="317.84" x2="456.80" y2="317.84" stroke="#333" stroke-width="1.1" />
<rect x="467.90" y="326.56" width="10.80" height="30.04" fill="#ca1c39" />
<line x1="473.30" y1="323.65" x2="473.30" y2="326.56" stroke="#5c5c5c" stroke-width="1" />
<line x1="472.00" y1="323.65" x2="474.60" y2="323.65" stroke="#333" stroke-width="1.1" />
<rect x="480.80" y="295.39" width="10.80" height="61.21" fill="#12578d" />
<line x1="486.20" y1="290.06" x2="486.20" y2="295.39" stroke="#5c5c5c" stroke-width="1" />
<line x1="484.90" y1="290.06" x2="487.50" y2="290.06" stroke="#333" stroke-width="1.1" />
<rect x="493.90" y="319.29" width="10.80" height="37.31" fill="#3db54a" />
<line x1="499.30" y1="318.00" x2="499.30" y2="319.29" stroke="#5c5c5c" stroke-width="1" />
<line x1="498.00" y1="318.00" x2="500.60" y2="318.00" stroke="#333" stroke-width="1.1" />
<text x="376.98" y="255.40" font-size="8.0" fill="#444" color="#444" textLength="29.62" lengthAdjust="spacingAndGlyphs" >p&lt;0.001</text>
<line x1="379.80" y1="257.70" x2="404.80" y2="257.70" stroke="#3a3a3a" stroke-width="1" />
<text x="391.79" y="243.20" font-size="8.0" fill="#444" color="#444" textLength="28.80" lengthAdjust="spacingAndGlyphs" >p&lt;0.001</text>
<line x1="393.80" y1="246.30" x2="418.70" y2="246.30" stroke="#3a3a3a" stroke-width="1" />
<text x="423.18" y="257.20" font-size="8.0" fill="#444" color="#444" textLength="24.75" lengthAdjust="spacingAndGlyphs" >p&lt;0.05</text>
<line x1="423.40" y1="259.70" x2="447.90" y2="259.70" stroke="#3a3a3a" stroke-width="1" />
<text x="438.77" y="245.40" font-size="8.0" fill="#444" color="#444" textLength="25.58" lengthAdjust="spacingAndGlyphs" >p&lt;0.05</text>
<line x1="439.00" y1="248.20" x2="463.80" y2="248.20" stroke="#3a3a3a" stroke-width="1" />
<text x="468.77" y="282.90" font-size="8.0" fill="#444" color="#444" textLength="25.38" lengthAdjust="spacingAndGlyphs" >p&lt;0.05</text>
<line x1="469.00" y1="285.90" x2="493.80" y2="285.90" stroke="#3a3a3a" stroke-width="1" />
<text x="481.87" y="270.70" font-size="8.0" fill="#444" color="#444" textLength="25.48" lengthAdjust="spacingAndGlyphs" >p&lt;0.05</text>
<line x1="482.50" y1="274.10" x2="507.30" y2="274.10" stroke="#3a3a3a" stroke-width="1" />
<text x="387.37" y="366.30" font-size="8.6" fill="#3c3c3c" color="#3c3c3c" textLength="20.76" lengthAdjust="spacingAndGlyphs" >BDEV</text>
<text x="435.18" y="366.30" font-size="8.6" fill="#3c3c3c" color="#3c3c3c" textLength="14.25" lengthAdjust="spacingAndGlyphs" >eEV</text>
<text x="478.81" y="366.30" font-size="8.6" fill="#3c3c3c" color="#3c3c3c" textLength="14.43" lengthAdjust="spacingAndGlyphs" >pEV</text>
<text x="-344.32" y="0" font-size="9.6" fill="#3c3c3c" color="#3c3c3c" textLength="54.90" lengthAdjust="spacingAndGlyphs" transform="translate(355.80,0) rotate(-90)" >Fibrinogen<tspan font-size="6.72" dy="-4.03">+</tspan><tspan dy="4.03"> EVs</tspan></text>
<text x="-289.06" y="0" font-size="9.6" fill="#3c3c3c" color="#3c3c3c" textLength="34.52" lengthAdjust="spacingAndGlyphs" transform="translate(355.80,0) rotate(-90)" >(×10<tspan font-size="6.53" dy="-4.03">3</tspan><tspan dy="4.03">/µl)</tspan></text>
<rect x="0.5" y="0.5" width="519" height="372" fill="none" stroke="#151113" stroke-width="1"/>
</svg>
</body></html>
